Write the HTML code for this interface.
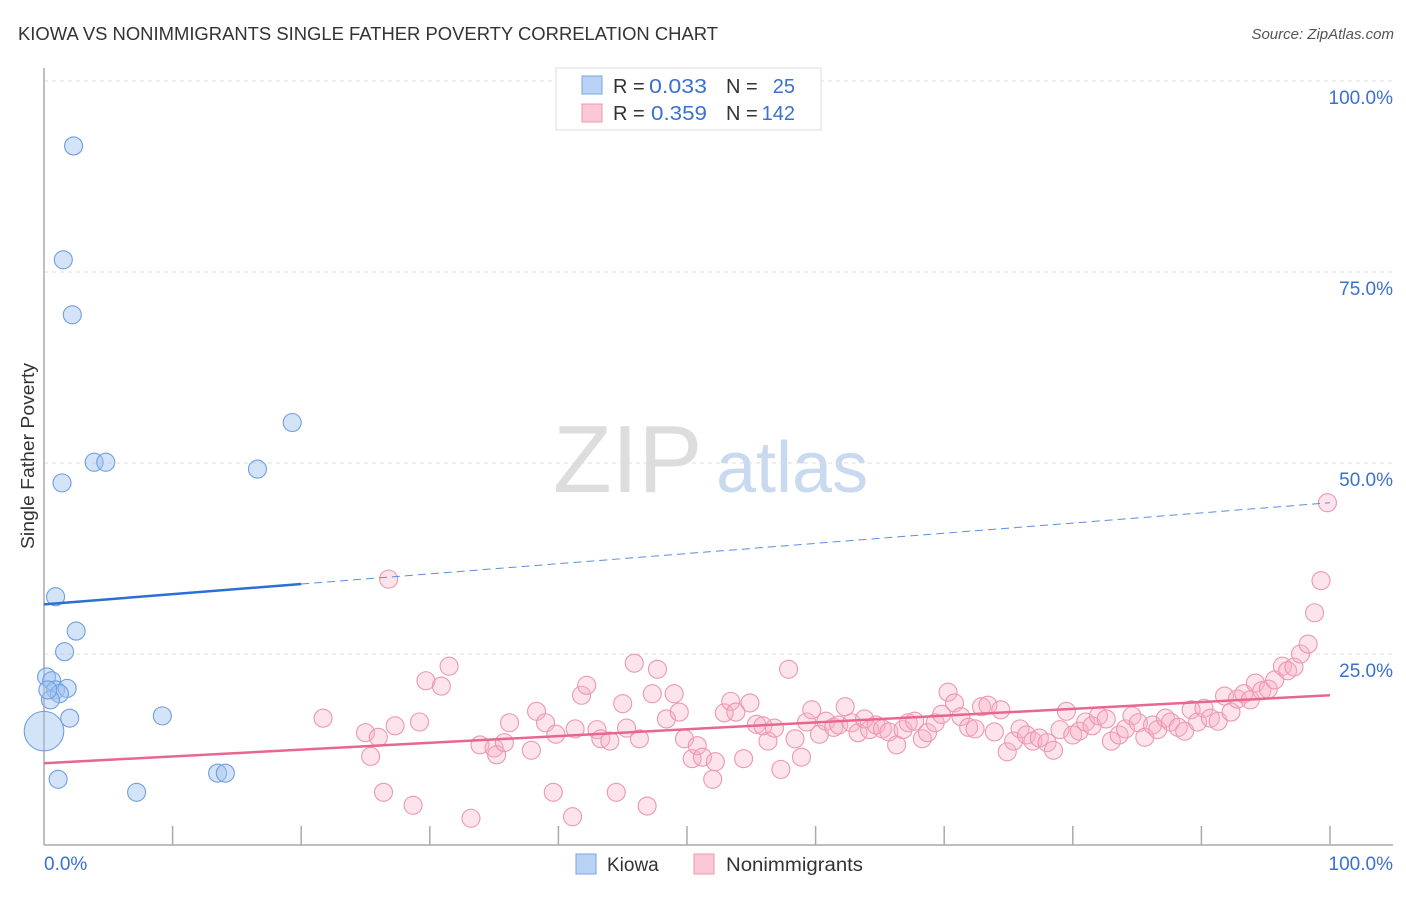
<!DOCTYPE html>
<html><head><meta charset="utf-8"><style>
body{margin:0;background:#fff;font-family:"Liberation Sans",sans-serif}
svg text{font-family:"Liberation Sans",sans-serif}
</style></head><body>
<svg width="1406" height="892" xmlns="http://www.w3.org/2000/svg">
<text x="18" y="40" font-size="18" fill="#333" textLength="700" lengthAdjust="spacingAndGlyphs">KIOWA VS NONIMMIGRANTS SINGLE FATHER POVERTY CORRELATION CHART</text>
<text x="1394" y="39" font-size="15" fill="#555" font-style="italic" text-anchor="end">Source: ZipAtlas.com</text>
<g>
<text x="553" y="492" font-size="96" fill="#ddd" font-family="Liberation Serif,serif">ZIP</text>
<text x="716" y="492" font-size="72" fill="#c9d9f0">atlas</text>
</g>
<g id="grid"></g>
<g id="axes"></g>
<g id="marks"></g>
<g>
<rect x="556" y="68" width="265" height="62" fill="#fff" stroke="#ddd"/>
<rect x="582" y="76" width="20" height="18" fill="#b8d3f5" stroke="#7aa6e0"/>
<rect x="582" y="104" width="20" height="18" fill="#fcc8d6" stroke="#eb98b0"/>
<text x="613" y="93" font-size="20" fill="#333">R =</text>
<text x="649" y="93" font-size="20" fill="#3a70d0" textLength="58" lengthAdjust="spacingAndGlyphs">0.033</text>
<text x="726" y="93" font-size="20" fill="#333">N =</text>
<text x="795" y="93" font-size="20" fill="#3a70d0" text-anchor="end">25</text>
<text x="613" y="120" font-size="20" fill="#333">R =</text>
<text x="651" y="120" font-size="20" fill="#3a70d0" textLength="56" lengthAdjust="spacingAndGlyphs">0.359</text>
<text x="726" y="120" font-size="20" fill="#333">N =</text>
<text x="795" y="120" font-size="20" fill="#3a70d0" text-anchor="end">142</text>
</g>
<g>
<rect x="576" y="854" width="20" height="20" fill="#b8d3f5" stroke="#7aa6e0"/>
<text x="607" y="871" font-size="19" fill="#333">Kiowa</text>
<rect x="694" y="854" width="20" height="20" fill="#fcc8d6" stroke="#eb98b0"/>
<text x="726" y="871" font-size="19" fill="#333" textLength="137" lengthAdjust="spacingAndGlyphs">Nonimmigrants</text>
</g>
<text transform="translate(34,456) rotate(-90)" font-size="18" fill="#333" text-anchor="middle" textLength="186" lengthAdjust="spacingAndGlyphs">Single Father Poverty</text>
</svg>
<script>
const yTicks=[25,50,75,100];
const yTickLabels=["25.0%","50.0%","75.0%","100.0%"];
const xTickLabels=["0.0%","100.0%"];
const kiowaX=[2.3,1.5,2.2,19.3,3.9,4.8,16.6,1.4,0.9,2.5,1.6,0.2,0.6,0.9,1.8,1.2,0.5,0,2.0,9.2,1.1,7.2,13.5,14.1,0.3];
const kiowaY=[91.5,76.6,69.4,55.3,50.1,50.1,49.2,47.4,32.5,28.0,25.3,22.0,21.5,20.3,20.5,19.8,19.0,14.9,16.6,16.9,8.6,6.9,9.4,9.4,20.3];
const kiowaSize=[1,1,1,1,1,1,1,1,1,1,1,1,1,1,1,1,1,2.2,1,1,1,1,1,1,1];
const nonX=[26.8,21.7,25.0,25.4,26.0,26.4,27.3,28.7,29.2,29.7,30.9,31.5,33.2,33.9,35.0,35.2,35.8,36.2,37.9,38.3,39.0,39.6,39.8,41.1,41.3,41.8,42.2,43.0,43.3,44.0,44.5,45.0,45.3,45.9,46.3,46.9,47.3,47.7,48.4,49.0,49.4,49.8,50.4,50.8,51.2,52.0,52.2,52.9,53.4,53.8,54.4,54.9,55.4,55.9,56.3,56.8,57.3,57.9,58.4,58.9,59.3,59.7,60.3,60.8,61.4,61.8,62.3,62.8,63.3,63.8,64.2,64.7,65.2,65.7,66.3,66.8,67.2,67.7,68.3,68.7,69.3,69.8,70.3,70.8,71.3,71.9,72.4,72.9,73.4,73.9,74.4,74.9,75.4,75.9,76.4,76.9,77.4,78.0,78.5,79.0,79.5,80.0,80.5,81.0,81.5,82.0,82.6,83.0,83.6,84.1,84.6,85.1,85.6,86.2,86.6,87.2,87.6,88.2,88.7,89.2,89.7,90.2,90.7,91.3,91.8,92.3,92.8,93.3,93.8,94.2,94.7,95.2,95.7,96.3,96.7,97.2,97.7,98.3,98.8,99.3,99.8];
const nonY=[34.8,16.6,14.7,11.6,14.1,6.9,15.6,5.2,16.1,21.5,20.8,23.4,3.5,13.1,12.7,11.8,13.4,16.0,12.4,17.5,16.0,6.9,14.5,3.7,15.2,19.6,20.9,15.1,13.9,13.6,6.9,18.5,15.3,23.8,13.9,5.1,19.8,23.0,16.5,19.8,17.4,13.9,11.3,13.0,11.5,8.6,10.9,17.3,18.8,17.4,11.3,18.6,15.8,15.6,13.6,15.3,9.9,23.0,13.9,11.5,16.1,17.7,14.5,16.2,15.4,15.7,18.1,16.0,14.7,16.5,15.1,15.7,15.2,14.8,13.1,15.1,16.0,16.2,13.9,14.7,16.0,17.1,20.0,18.6,16.8,15.4,15.2,18.1,18.3,14.8,17.7,12.2,13.6,15.2,14.4,13.6,14.0,13.4,12.4,15.1,17.5,14.4,14.9,16.1,15.6,16.9,16.5,13.6,14.4,15.2,16.9,16.0,14.1,15.7,15.1,16.6,16.1,15.4,14.9,17.7,16.1,17.9,16.6,16.2,19.5,17.4,19.1,19.8,19.0,21.2,20.2,20.4,21.6,23.4,22.8,23.3,25.0,26.3,30.4,34.6,44.8];
const kiowaTrend=[31.5,44.8];
const kiowaTrendSolidEnd=20;
const nonTrend=[10.7,19.6];

const NS="http://www.w3.org/2000/svg";
const X0=44,X1=1330,Y0=845,Y1=81;
const sx=v=>X0+(X1-X0)*v/100;
const sy=v=>Y0-(Y0-Y1)*v/100;
function mk(tag,attrs,parent){const e=document.createElementNS(NS,tag);for(const k in attrs)e.setAttribute(k,attrs[k]);parent.appendChild(e);return e;}
const grid=document.getElementById('grid'),axes=document.getElementById('axes'),marks=document.getElementById('marks');
yTicks.forEach((t,i)=>{
  const l=mk('line',{x1:X0,x2:1393,y1:sy(t),y2:sy(t),stroke:'#ddd','stroke-dasharray':'4,4'},grid);
  
  
  const tx=mk('text',{x:1393,y:sy(t)+23,'font-size':19,fill:'#3a70d0','text-anchor':'end'},axes);
  tx.textContent=yTickLabels[i];
  
  
});
let a=mk('line',{x1:X0,x2:X0,y1:68,y2:Y0,stroke:'#aaa','stroke-width':1.5},axes);


a=mk('line',{x1:X0,x2:1393,y1:Y0,y2:Y0,stroke:'#aaa','stroke-width':1.5},axes);


for(let i=1;i<=10;i++){
  const t=mk('line',{x1:sx(i*10),x2:sx(i*10),y1:Y0-19,y2:Y0,stroke:'#aaa','stroke-width':1.5},axes);
  
  
}
[[0,'start',X0],[1,'end',1393]].forEach(([i,anc,x])=>{
  const tx=mk('text',{x:x,y:870,'font-size':19,fill:'#3a70d0','text-anchor':anc},axes);
  tx.textContent=xTickLabels[i];
  
  
});
nonX.forEach((v,i)=>{
  const c=mk('circle',{cx:sx(v),cy:sy(nonY[i]),r:9,fill:'rgba(248,175,198,0.35)',stroke:'#eb98b0','stroke-width':1.1},marks);
  
  
});
kiowaX.forEach((v,i)=>{
  const c=mk('circle',{cx:sx(v),cy:sy(kiowaY[i]),r:9*kiowaSize[i],fill:'rgba(160,196,240,0.45)',stroke:'#6f9ee0','stroke-width':1.1},marks);
  
  
});
const ky=x=>kiowaTrend[0]+(kiowaTrend[1]-kiowaTrend[0])*x/100;
let tl=mk('line',{x1:sx(0),y1:sy(ky(0)),x2:sx(kiowaTrendSolidEnd),y2:sy(ky(kiowaTrendSolidEnd)),stroke:'#2a6fd6','stroke-width':2.5},marks);


tl=mk('line',{x1:sx(kiowaTrendSolidEnd),y1:sy(ky(kiowaTrendSolidEnd)),x2:sx(100),y2:sy(ky(100)),stroke:'#5a8fdc','stroke-width':1,'stroke-dasharray':'8,5'},marks);


tl=mk('line',{x1:sx(0),y1:sy(nonTrend[0]),x2:sx(100),y2:sy(nonTrend[1]),stroke:'#e8668f','stroke-width':2.5},marks);


</script>
</body></html>
